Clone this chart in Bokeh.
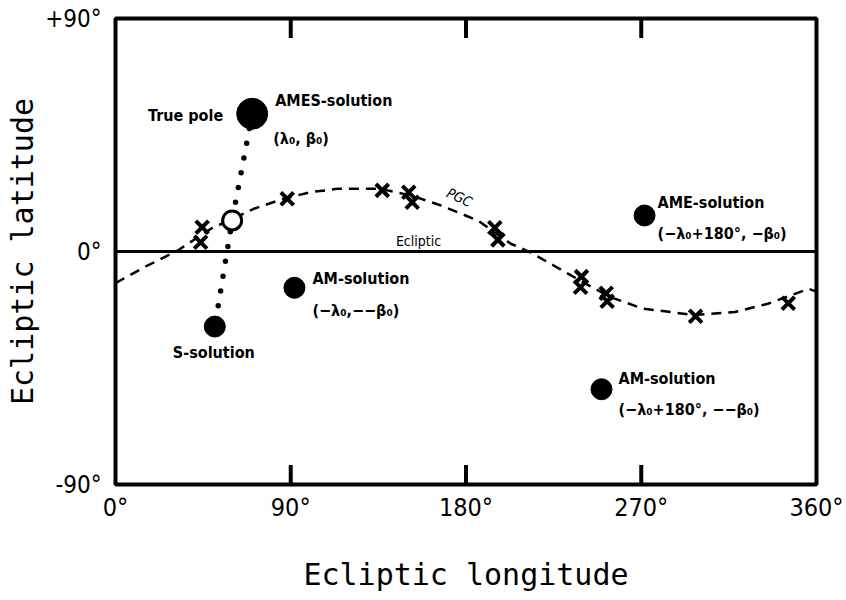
from bokeh.plotting import figure
from bokeh.models import Range1d, FixedTicker, Span, ColumnDataSource
from bokeh.core.properties import value
from bokeh.embed import file_html
from bokeh.resources import INLINE

# ---- data (degrees) ----
x_ticks = [0, 90, 180, 270, 360]
x_tick_labels = ["0°", "90°", "180°", "270°", "360°"]
y_ticks = [-90, 0, 90]
y_tick_labels = ["-90°", "0°", "+90°"]
inner_ticks = [90, 180, 270]

# PGC (dashed curve)
pgc_lon = [0, 15, 32, 49, 59, 71, 86, 100, 114, 136, 152, 167, 186, 203, 213, 225,
           240, 254, 271, 297, 318, 335, 356, 360]
pgc_lat = [-12.2, -6.0, 0.4, 8.8, 12.2, 16.5, 20.3, 22.9, 24.2, 24.2, 21.6, 17.8, 12.0,
           3.0, -0.3, -5.4, -11.8, -17.6, -22.1, -24.5, -23.4, -20.2, -14.4, -15.5]

# observed poles (crosses)
obs_lon = [44.5, 43.7, 88.2, 137.0, 150.6, 152.4, 194.8, 196.4, 239.3, 238.8, 252.0,
           252.5, 297.9, 345.5]
obs_lat = [9.4, 3.6, 20.4, 23.6, 22.9, 19.0, 9.2, 4.5, -9.7, -13.8, -16.1, -19.2,
           -25.0, -20.0]

# solutions
true_pole_lon = [70.2]
true_pole_lat = [53.2]
open_lon = [59.9]
open_lat = [12.0]
s_lon = [51.0]
s_lat = [-29.0]
other_lon = [91.9, 271.7, 249.6]
other_lat = [-14.0, 13.9, -53.2]
other_names = ["AM-solution", "AME-solution", "AM-solution"]
other_coords = ["(−λ₀,−−β₀)", "(−λ₀+180°, −β₀)", "(−λ₀+180°, −−β₀)"]

LABEL_FONT = "DejaVu Sans Condensed"
TICK_FONT = "DejaVu Sans Condensed"
TITLE_FONT = "DejaVu Sans Mono"
Y_MIN, Y_MAX = -90, 90
TICK_LEN = 7.5  # inner tick length in degrees of latitude (~19 px)

p = figure(width=846, height=600, x_range=Range1d(0, 360), y_range=Range1d(Y_MIN, Y_MAX),
           output_backend="svg", toolbar_location=None)
p.min_border_left = 115
p.min_border_right = 30
p.min_border_top = 18
p.min_border_bottom = 116
p.xgrid.visible = False
p.ygrid.visible = False
p.outline_line_color = "black"
p.outline_line_width = 4
p.background_fill_color = "white"
p.border_fill_color = "white"

xa = p.xaxis[0]
xa.ticker = FixedTicker(ticks=x_ticks)
xa.major_label_overrides = {t: l for t, l in zip(x_ticks, x_tick_labels)}
xa.axis_line_color = None
xa.major_tick_in = 0
xa.major_tick_out = 0
xa.minor_tick_line_color = None
xa.major_label_text_font = TICK_FONT
xa.major_label_text_font_size = "25px"
xa.major_label_text_color = "black"
xa.major_label_standoff = 8
xa.axis_label = "Ecliptic longitude"
xa.axis_label_text_font = TITLE_FONT
xa.axis_label_text_font_size = "30px"
xa.axis_label_text_font_style = "normal"
xa.axis_label_text_color = "black"
xa.axis_label_standoff = 32

ya = p.yaxis[0]
ya.ticker = FixedTicker(ticks=y_ticks)
ya.major_label_overrides = {t: l for t, l in zip(y_ticks, y_tick_labels)}
ya.axis_line_color = None
ya.major_tick_line_color = None
ya.minor_tick_line_color = None
ya.major_label_text_font = TICK_FONT
ya.major_label_text_font_size = "24px"
ya.major_label_text_color = "black"
ya.major_label_standoff = 8
ya.axis_label = "Ecliptic latitude"
ya.axis_label_text_font = TITLE_FONT
ya.axis_label_text_font_size = "30px"
ya.axis_label_text_font_style = "normal"
ya.axis_label_text_color = "black"
ya.axis_label_standoff = 2

# inner ticks on top and bottom frame edges
n = len(inner_ticks)
p.segment(x0=inner_ticks * 2, y0=[Y_MAX] * n + [Y_MIN] * n, x1=inner_ticks * 2,
          y1=[Y_MAX - TICK_LEN] * n + [Y_MIN + TICK_LEN] * n,
          line_color="black", line_width=4)

# ecliptic
p.add_layout(Span(location=0, dimension="width", line_color="black", line_width=3))
p.text(x=[144], y=[0], text=["Ecliptic"], text_font=value(LABEL_FONT), text_font_size="14px",
       text_align="left", text_baseline="bottom", y_offset=-3, text_color="black")

# PGC dashed curve
p.line(pgc_lon, pgc_lat, line_color="black", line_width=2.5, line_dash="10 7")
p.text(x=[176.7], y=[20.9], text=["PGC"], text_font=value(LABEL_FONT), text_font_size="14px",
       text_font_style="italic", angle=-25, angle_units="deg", text_align="center",
       text_baseline="middle", text_color="black")

# dotted connection pole -> open circle -> S-solution
p.line(true_pole_lon + open_lon + s_lon, true_pole_lat + open_lat + s_lat,
       line_color="black", line_width=5.5, line_dash="0 15", line_cap="round")

# crosses
p.scatter(obs_lon, obs_lat, marker="x", size=18, line_color="black", line_width=4)

# circles
p.scatter(true_pole_lon, true_pole_lat, marker="circle", size=31, fill_color="black",
          line_color="black")
p.scatter(open_lon, open_lat, marker="circle", size=19, fill_color="white",
          line_color="black", line_width=3)
p.scatter(s_lon + other_lon, s_lat + other_lat, marker="circle", size=21,
          fill_color="black", line_color="black")

lab = dict(text_font=value(LABEL_FONT), text_font_size="16px", text_font_style="bold",
           text_color="black", text_baseline="middle")

p.text(x=true_pole_lon, y=true_pole_lat, text=["True pole"], x_offset=-29, y_offset=2,
       text_align="right", **lab)
p.text(x=true_pole_lon, y=true_pole_lat, text=["AMES-solution"], x_offset=23, y_offset=-13,
       text_align="left", **lab)
p.text(x=true_pole_lon, y=true_pole_lat, text=["(λ₀, β₀)"], x_offset=21, y_offset=25,
       text_align="left", **lab)
p.text(x=s_lon, y=s_lat, text=["S-solution"], x_offset=-1, y_offset=26,
       text_align="center", **lab)
src = ColumnDataSource(dict(x=other_lon, y=other_lat, name=other_names, coords=other_coords,
                            dx=[18, 13, 17], dy1=[-9, -13, -11], dy2=[23, 18, 20]))
p.text(x="x", y="y", text="name", x_offset="dx", y_offset="dy1", source=src,
       text_align="left", **lab)
p.text(x="x", y="y", text="coords", x_offset="dx", y_offset="dy2", source=src,
       text_align="left", **lab)

open("out.html", "w").write(file_html(p, INLINE))
